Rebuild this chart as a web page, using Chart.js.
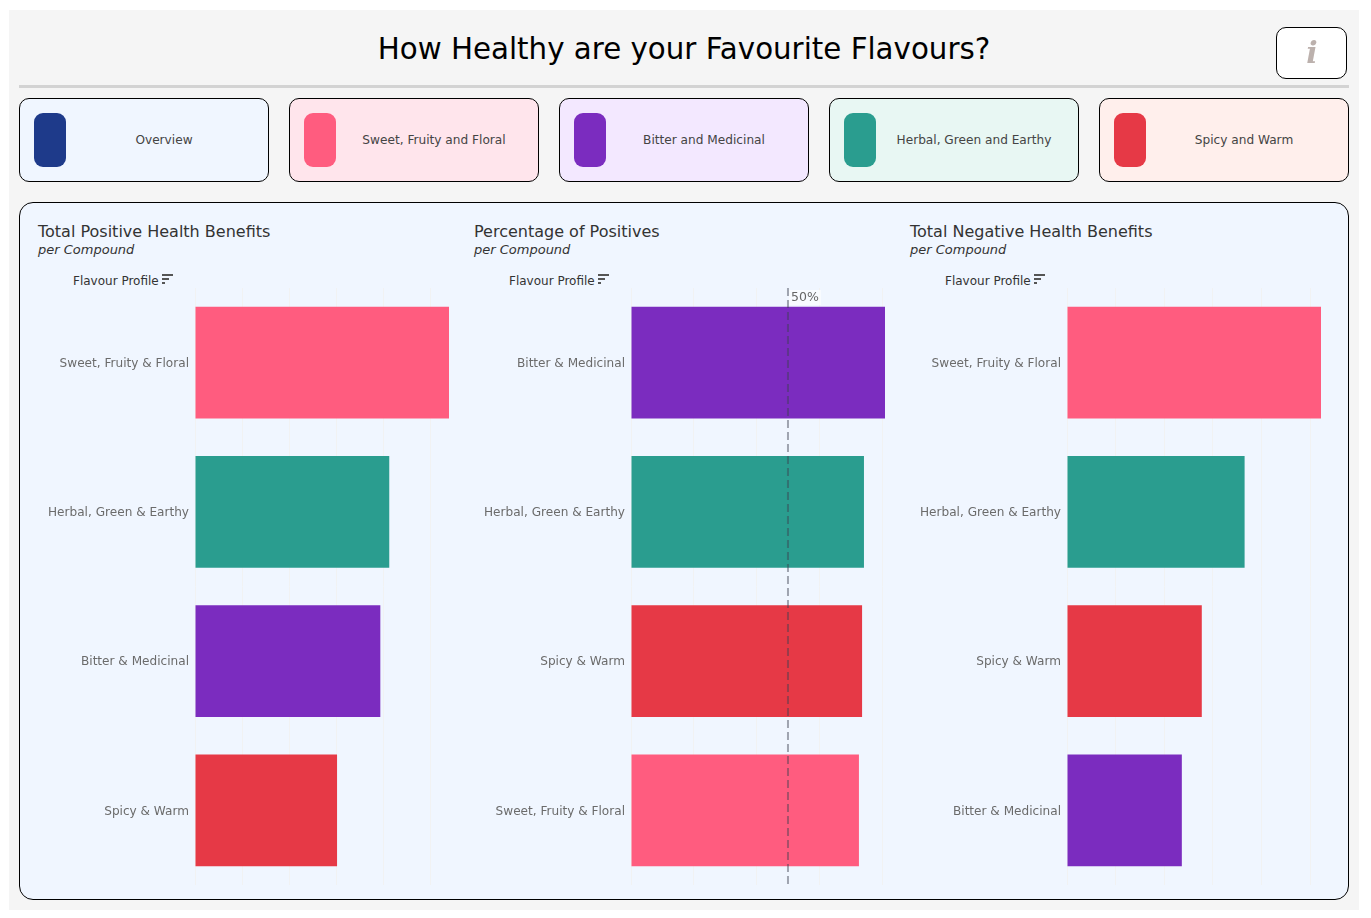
<!DOCTYPE html>
<html>
<head>
<meta charset="utf-8">
<title>How Healthy are your Favourite Flavours?</title>
<script src="https://cdn.jsdelivr.net/npm/chart.js@4"></script>
<style>
  html, body { margin: 0; padding: 0; background: #fff; }
  body { position: relative; width: 1371px; height: 918px; overflow: hidden; font-family: "DejaVu Sans", sans-serif; }
  .abs { position: absolute; }
  #page { left: 9px; top: 10px; width: 1350px; height: 900px; background: #f5f5f5; }
  #title { left: 19px; width: 1330px; top: 30px; text-align: center; font-size: 29.3px; line-height: 38px; color: #000; }
  #rule { left: 19px; top: 85px; width: 1330px; height: 3px; background: #d3d3d3; }
  #info { left: 1276px; top: 27px; width: 69px; height: 50px; background: #fff; border: 1px solid #000; border-radius: 10px; }
  #info span { display: block; text-align: center; font: italic bold 30px/50px "DejaVu Serif", serif; color: #bcb1ad; filter: blur(0.6px); padding-left: 1px; }
  .card { top: 98px; width: 248px; height: 82px; border: 1px solid #000; border-radius: 10px; }
  .swatch { position: absolute; left: 14px; top: 14px; width: 32px; height: 54px; border-radius: 9px; }
  .card span { position: absolute; left: 0; width: 288px; top: 0; line-height: 82px; text-align: center; font-size: 12.15px; color: #444; white-space: nowrap; }
  #panel { left: 19px; top: 202px; width: 1328px; height: 696px; background: #f0f6ff; border: 1px solid #000; border-radius: 14px; }
  .head { font-size: 16px; line-height: 20px; color: #333; top: 222px; white-space: nowrap; }
  .sub { font-size: 13px; line-height: 18px; font-style: italic; color: #333; top: 241px; white-space: nowrap; }
  .axisname { font-size: 12px; line-height: 16px; color: #333; top: 273px; white-space: nowrap; }
  .sort { top: 274px; width: 11px; height: 10px; }
  .sort i { display: block; height: 2px; margin-bottom: 2px; background: #555; }
  canvas { position: absolute; top: 288px; }
</style>
</head>
<body>
<div id="page" class="abs"></div>
<div id="title" class="abs">How Healthy are your Favourite Flavours?</div>
<div id="rule" class="abs"></div>
<div id="info" class="abs"><span>i</span></div>
<div id="cards"></div>
<div id="panel" class="abs"></div>
<div id="panels"></div>

<script>
const pink = '#ff5c7f'
const purple = '#7b2cbf'
const teal = '#2a9d8f'
const red = '#e63946'

const tabLabels = ['Overview', 'Sweet, Fruity and Floral', 'Bitter and Medicinal', 'Herbal, Green and Earthy', 'Spicy and Warm']
const tabColors = ['#1e3a8a', pink, purple, teal, red]
const tabBackgrounds = ['#f0f6ff', '#ffe5ec', '#f3e8ff', '#e8f7f3', '#ffefec']

const positiveLabels = ['Sweet, Fruity & Floral', 'Herbal, Green & Earthy', 'Bitter & Medicinal', 'Spicy & Warm']
const positiveValues = [5.4, 4.13, 3.94, 3.02]
const positiveColors = [pink, teal, purple, red]

const percentLabels = ['Bitter & Medicinal', 'Herbal, Green & Earthy', 'Spicy & Warm', 'Sweet, Fruity & Floral']
const percentValues = [80.9, 74.2, 73.6, 72.6]
const percentColors = [purple, teal, red, pink]

const negativeLabels = ['Sweet, Fruity & Floral', 'Herbal, Green & Earthy', 'Spicy & Warm', 'Bitter & Medicinal']
const negativeValues = [5.22, 3.65, 2.77, 2.36]
const negativeColors = [pink, teal, red, purple]

const referenceValue = 50

function addDiv (parent, className, left, text) {
  const el = document.createElement('div')
  el.className = 'abs ' + className
  el.style.left = left + 'px'
  if (text) el.textContent = text
  parent.appendChild(el)
  return el
}

// top row of flavour tabs
const cards = document.getElementById('cards')
tabLabels.forEach((label, i) => {
  const card = addDiv(cards, 'card', 19 + i * 270)
  card.style.background = tabBackgrounds[i]
  const swatch = document.createElement('div')
  swatch.className = 'swatch'
  swatch.style.background = tabColors[i]
  card.appendChild(swatch)
  const text = document.createElement('span')
  text.textContent = label
  card.appendChild(text)
})

// dashed 50% marker for the middle chart
const referenceLine = {
  id: 'referenceLine',
  afterDatasetsDraw (chart) {
    const x = chart.scales.x.getPixelForValue(referenceValue)
    const { ctx, chartArea } = chart
    ctx.save()
    ctx.fillStyle = 'rgba(255,255,255,0.55)'
    ctx.fillRect(x + 1, chartArea.top + 2, 32, 15)
    ctx.strokeStyle = 'rgba(60,65,80,0.45)'
    ctx.lineWidth = 2
    ctx.setLineDash([8, 4])
    ctx.beginPath()
    ctx.moveTo(x, chartArea.top)
    ctx.lineTo(x, chartArea.bottom)
    ctx.stroke()
    ctx.fillStyle = '#666'
    ctx.font = '12.5px "DejaVu Sans"'
    ctx.textBaseline = 'middle'
    ctx.fillText(referenceValue + '%', x + 3, chartArea.top + 9.5)
    ctx.restore()
  }
}

function drawPanel (left, title, labels, values, colors, axisMax, step, plugins) {
  const holder = document.getElementById('panels')
  addDiv(holder, 'head', left, title)
  addDiv(holder, 'sub', left, 'per Compound')
  addDiv(holder, 'axisname', left + 35, 'Flavour Profile')
  const sort = addDiv(holder, 'sort', left + 124)
  ;[11, 7, 3].forEach((w) => {
    const bar = document.createElement('i')
    bar.style.width = w + 'px'
    sort.appendChild(bar)
  })

  const canvas = document.createElement('canvas')
  canvas.style.left = left + 'px'
  canvas.width = 411
  canvas.height = 597
  holder.appendChild(canvas)

  new Chart(canvas, {
    type: 'bar',
    data: {
      labels,
      datasets: [{ data: values, backgroundColor: colors, barPercentage: 0.75, categoryPercentage: 1 }]
    },
    plugins,
    options: {
      indexAxis: 'y',
      responsive: false,
      animation: false,
      layout: { padding: 0 },
      plugins: { legend: { display: false }, tooltip: { enabled: false } },
      scales: {
        x: {
          min: 0,
          max: axisMax,
          afterFit (scale) {
            scale.height = 0
            scale.paddingLeft = scale.paddingRight = 0
          },
          border: { display: false },
          grid: { color: '#f1f2f3', lineWidth: 1, drawTicks: false },
          ticks: { display: false, stepSize: step, includeBounds: false }
        },
        y: {
          afterFit (scale) {
            scale.width = 157
            scale.paddingTop = scale.paddingBottom = 0
          },
          border: { display: false },
          grid: { display: false, drawTicks: false },
          ticks: { padding: 6, labelOffset: 1, color: '#6b6b6b', font: { family: '"DejaVu Sans"', size: 12.1 } }
        }
      }
    }
  })
}

drawPanel(38, 'Total Positive Health Benefits', positiveLabels, positiveValues, positiveColors, 5.4, 1, [])
drawPanel(474, 'Percentage of Positives', percentLabels, percentValues, percentColors, 80.9, 20, [referenceLine])
drawPanel(910, 'Total Negative Health Benefits', negativeLabels, negativeValues, negativeColors, 5.22, 1, [])
</script>
</body>
</html>
